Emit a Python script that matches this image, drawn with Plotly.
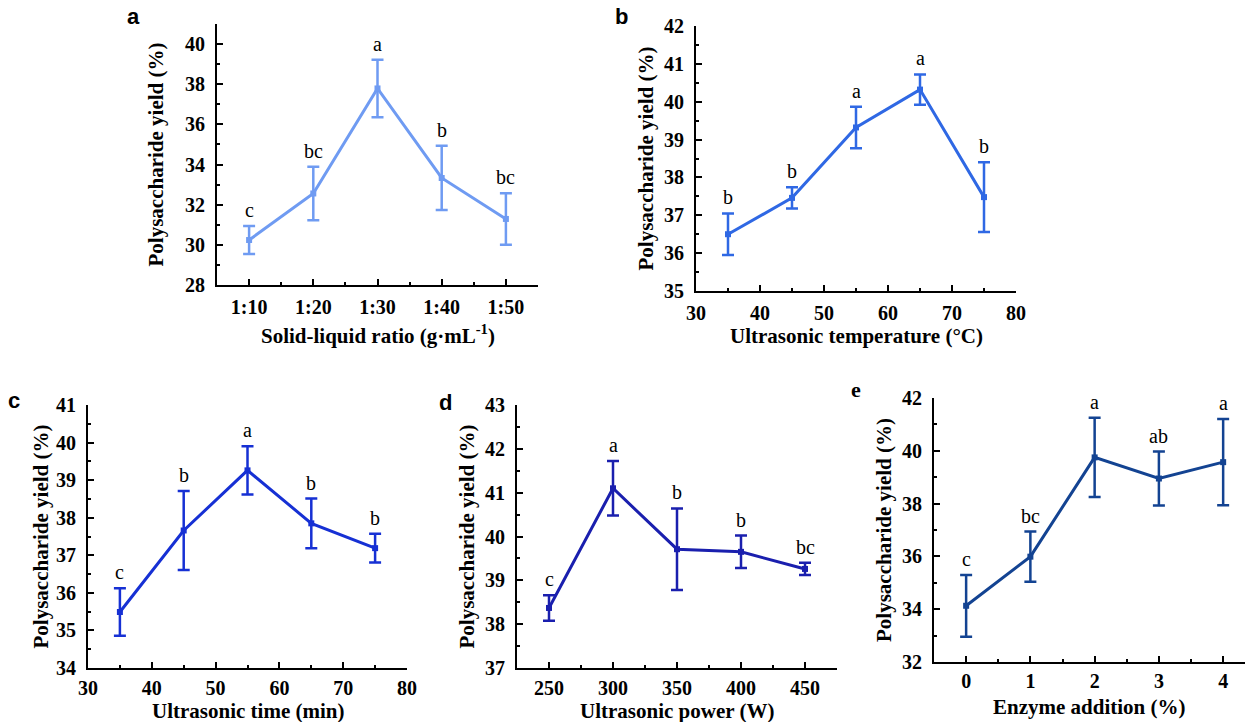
import plotly.graph_objects as go

W, H = 1245, 722

# ---------- data ----------
a_cats = ["1:10", "1:20", "1:30", "1:40", "1:50"]
a_vals = [30.24, 32.56, 37.79, 33.33, 31.29]
a_err = [0.70, 1.33, 1.43, 1.60, 1.28]
a_sig = ["c", "bc", "a", "b", "bc"]

b_x = [35, 45, 55, 65, 75]
b_vals = [36.50, 37.46, 39.32, 40.32, 37.48]
b_err = [0.55, 0.28, 0.55, 0.40, 0.92]
b_sig = ["b", "b", "a", "a", "b"]

c_x = [35, 45, 55, 65, 75]
c_vals = [35.49, 37.66, 39.26, 37.85, 37.19]
c_err = [0.63, 1.05, 0.64, 0.66, 0.38]
c_sig = ["c", "b", "a", "b", "b"]

d_x = [250, 300, 350, 400, 450]
d_vals = [38.37, 41.10, 39.71, 39.65, 39.26]
d_err = [0.29, 0.62, 0.93, 0.37, 0.14]
d_sig = ["c", "a", "b", "b", "bc"]

e_x = [0, 1, 2, 3, 4]
e_vals = [34.13, 35.99, 39.75, 38.95, 39.57]
e_err = [1.17, 0.95, 1.50, 1.02, 1.63]
e_sig = ["c", "bc", "a", "ab", "a"]

SERIF = "Liberation Serif, Times New Roman, serif"
SANS = "Liberation Sans, Arial, sans-serif"

fig = go.Figure()

panels = [
    dict(x=list(range(len(a_cats))), y=a_vals, err=a_err, sig=a_sig, color="#6F9BF2",
         box=(217, 538, 24, 285), xr=[-0.5, 4.5], yr=[28, 41], ydt=2, ymin=1,
         tickvals=list(range(len(a_cats))), ticktext=a_cats, xmin=(1, 0.5), xso=3,
         xtitle="Solid-liquid ratio (g·mL<sup>-1</sup>)", xt_y=334, yt_x=155,
         label="a", lab=(133, 17), labfont=SANS),
    dict(x=b_x, y=b_vals, err=b_err, sig=b_sig, color="#2F68E4",
         box=(696, 1016, 26, 291), xr=[30, 80], yr=[35, 42], ydt=1, ymin=0.5,
         tickvals=None, ticktext=None, xmin=(5, 35), xdt=10, xso=3,
         xtitle="Ultrasonic temperature (°C)", xt_y=336, yt_x=645,
         label="b", lab=(621, 17), labfont=SANS),
    dict(x=c_x, y=c_vals, err=c_err, sig=c_sig, color="#1630D4",
         box=(88, 407, 405, 668), xr=[30, 80], yr=[34, 41], ydt=1, ymin=0.5,
         tickvals=None, ticktext=None, xmin=(5, 35), xdt=10, xso=1,
         xtitle="Ultrasonic time (min)", xt_y=711, yt_x=40,
         label="c", lab=(14, 400), labfont=SANS),
    dict(x=d_x, y=d_vals, err=d_err, sig=d_sig, color="#1A1FAE",
         box=(517, 837, 405, 668), xr=[225, 475], yr=[37, 43], ydt=1, ymin=0.5,
         tickvals=None, ticktext=None, xmin=(25, 225), xdt=50, xso=1,
         xtitle="Ultrasonic power (W)", xt_y=711, yt_x=466,
         label="d", lab=(445, 402), labfont=SANS),
    dict(x=e_x, y=e_vals, err=e_err, sig=e_sig, color="#134392",
         box=(934, 1245, 398, 662), xr=[-0.5, 4.34], yr=[32, 42], ydt=2, ymin=1,
         tickvals=None, ticktext=None, xmin=(1, 0.5), xdt=1, xso=0,
         xtitle="Enzyme addition (%)", xt_y=707, yt_x=884,
         label="e", lab=(856, 390), labfont=SERIF),
]

annotations = []
for i, p in enumerate(panels, start=1):
    xa = "x" if i == 1 else f"x{i}"
    ya = "y" if i == 1 else f"y{i}"
    x0, x1, yt, yb = p["box"]
    fig.add_trace(go.Scatter(
        x=p["x"], y=p["y"], xaxis=xa, yaxis=ya, mode="lines+markers",
        line=dict(color=p["color"], width=3),
        marker=dict(symbol="square", size=6, color=p["color"]),
        error_y=dict(type="data", array=p["err"], visible=True,
                     color=p["color"], thickness=2.5, width=6),
        showlegend=False, hoverinfo="skip"))
    xkey = "xaxis" if i == 1 else f"xaxis{i}"
    ykey = "yaxis" if i == 1 else f"yaxis{i}"
    xaxis = dict(domain=[x0 / W, x1 / W], anchor=ya, range=p["xr"], automargin=False,
                 showline=True, linecolor="black", linewidth=2,
                 ticks="inside", ticklen=6, tickwidth=2, tickcolor="black",
                 ticklabelstandoff=p["xso"],
                 showgrid=False, zeroline=False,
                 tickfont=dict(family=SERIF, size=20, color="black", weight="bold"),
                 minor=dict(ticks="inside", ticklen=3, tickwidth=2, tickcolor="black",
                            dtick=p["xmin"][0], tick0=p["xmin"][1], showgrid=False))
    if p["tickvals"] is not None:
        xaxis.update(tickmode="array", tickvals=p["tickvals"], ticktext=p["ticktext"])
    else:
        xaxis.update(dtick=p["xdt"], tick0=0)
    yaxis = dict(domain=[1 - yb / H, 1 - yt / H], anchor=xa, range=p["yr"], automargin=False,
                 showline=True, linecolor="black", linewidth=2,
                 ticks="inside", ticklen=6, tickwidth=2, tickcolor="black",
                 ticklabelstandoff=6,
                 dtick=p["ydt"], tick0=0, showgrid=False, zeroline=False,
                 tickfont=dict(family=SERIF, size=20, color="black", weight="bold"),
                 minor=dict(ticks="inside", ticklen=3, tickwidth=2, tickcolor="black",
                            dtick=p["ymin"], tick0=0, showgrid=False))
    fig.update_layout({xkey: xaxis, ykey: yaxis})

    for xv, yv, ev, s in zip(p["x"], p["y"], p["err"], p["sig"]):
        annotations.append(dict(x=xv, y=yv + ev, xref=xa, yref=ya, text=s,
                                showarrow=False, yanchor="bottom", yshift=3,
                                font=dict(family=SERIF, size=20, color="black")))
    annotations.append(dict(x=(x0 + x1) / 2 / W, y=1 - p["xt_y"] / H, xref="paper", yref="paper",
                            text=p["xtitle"], showarrow=False, xanchor="center", yanchor="middle",
                            font=dict(family=SERIF, size=21, color="black", weight="bold")))
    annotations.append(dict(x=p["yt_x"] / W, y=1 - (yt + yb) / 2 / H, xref="paper", yref="paper",
                            text="Polysaccharide yield (%)", textangle=-90, showarrow=False,
                            xanchor="center", yanchor="middle",
                            font=dict(family=SERIF, size=21, color="black", weight="bold")))
    annotations.append(dict(x=p["lab"][0] / W, y=1 - p["lab"][1] / H, xref="paper", yref="paper",
                            text=p["label"], showarrow=False, xanchor="center", yanchor="middle",
                            font=dict(family=p["labfont"], size=22, color="black", weight="bold")))

fig.update_layout(width=W, height=H, margin=dict(l=0, r=0, t=0, b=0, autoexpand=False),
                  paper_bgcolor="white", plot_bgcolor="white",
                  annotations=annotations)

fig.write_html("out.html", config={"displayModeBar": False},
               post_script="document.body.style.margin='0px';document.body.style.overflow='hidden';")
